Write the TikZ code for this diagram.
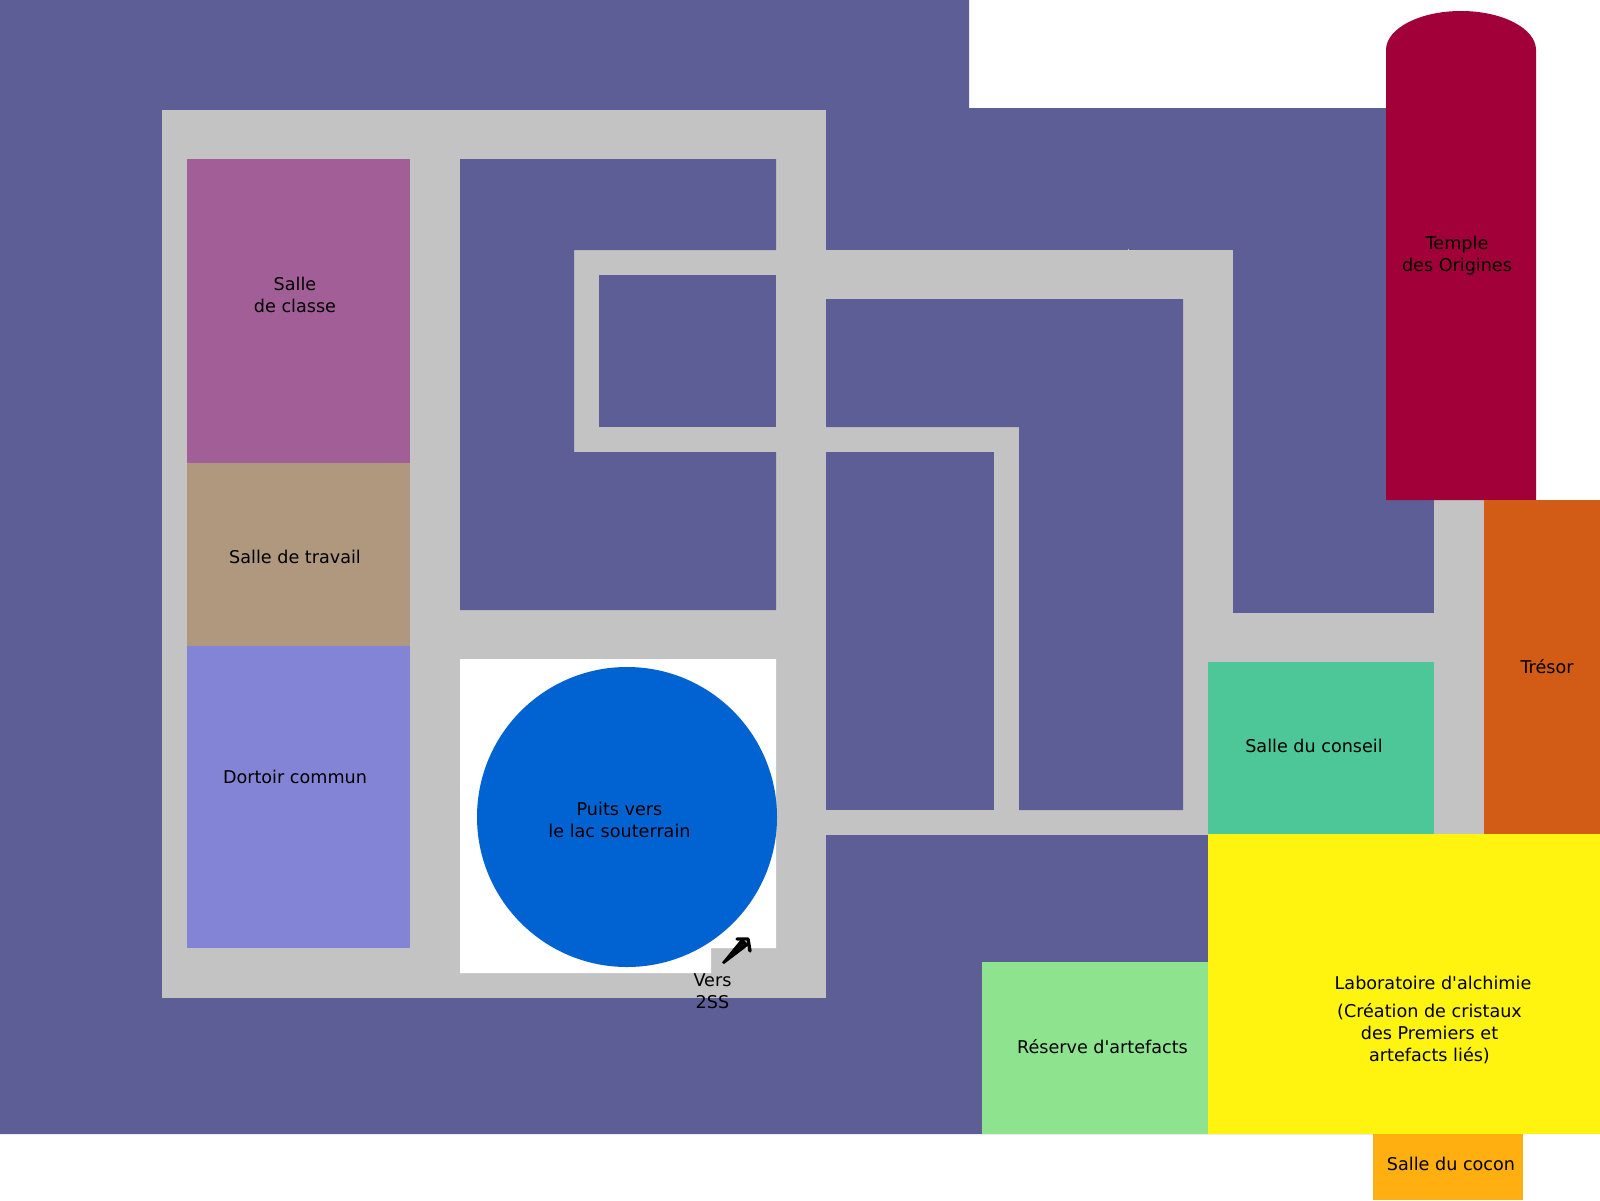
\documentclass[tikz,border=0pt]{standalone}
\usepackage{fontspec}
\setmainfont{DejaVu Sans}
\usetikzlibrary{arrows.meta}
\definecolor{plum}{HTML}{5E5E97}
\definecolor{corr}{HTML}{C3C3C3}
\definecolor{classe}{HTML}{A25F97}
\definecolor{travail}{HTML}{AF987E}
\definecolor{dortoir}{HTML}{8484D6}
\definecolor{puits}{HTML}{0063D1}
\definecolor{temple}{HTML}{A00037}
\definecolor{tresor}{HTML}{D25B15}
\definecolor{conseil}{HTML}{4DC698}
\definecolor{labo}{HTML}{FFF310}
\definecolor{reserve}{HTML}{8EE48E}
\definecolor{cocon}{HTML}{FFB010}
\tikzset{
  label/.style={text=black,font=\fontsize{17.6}{22}\selectfont,align=center,inner sep=0pt},
}
\begin{document}
\begin{tikzpicture}[x=1pt,y=-1pt]
\useasboundingbox (0,0) rectangle (1600,1200);
% background
\fill[white] (0,0) rectangle (1600,1200);
\fill[plum] (0,0) -- (969,0) -- (969,108) -- (1386,108) -- (1386,500) -- (1434,500) -- (1434,1134) -- (0,1134) -- cycle;
% corridors
\fill[corr] (162,110) rectangle (826,998);
\fill[corr] (826,250) rectangle (1233,835);
\fill[corr] (1128,249) rectangle (1129,250);
\fill[corr] (1183,613) rectangle (1484,662);
\fill[corr] (1434,500) rectangle (1484,834);
% plum islands
\fill[plum] (460,159) -- (776,159) -- (776,250) -- (574,250) -- (574,452) -- (776,452) -- (776,610) -- (460,610) -- cycle;
\fill[plum] (599,275) rectangle (776,427);
\fill[plum] (826,299) -- (1183,299) -- (1183,810) -- (1019,810) -- (1019,427) -- (826,427) -- cycle;
\fill[plum] (826,452) rectangle (994,810);
\fill[plum] (1233,250) rectangle (1434,613);
% rooms
\fill[classe] (187,159) rectangle (410,463);
\fill[travail] (187,463) rectangle (410,646);
\fill[dortoir] (187,646) rectangle (410,948);
\fill[white] (460,659) -- (776,659) -- (776,948) -- (711,948) -- (711,973) -- (460,973) -- cycle;
\fill[puits] (627,817) circle[radius=150];
\fill[temple] (1386,500) -- (1386,50) arc[start angle=180,end angle=360,x radius=75,y radius=39] -- (1536,500) -- cycle;
\fill[tresor] (1484,500) rectangle (1600,834);
\fill[conseil] (1208,662) rectangle (1434,834);
\fill[labo] (1208,834) rectangle (1600,1134);
\fill[reserve] (982,962) rectangle (1208,1134);
\fill[cocon] (1373,1134) rectangle (1523,1200);
% labels
\node[label] (tclasse) at (295,295) {Salle\\de classe};
\node[label] (ttravail) at (295,557) {Salle de travail};
\node[label] (tdortoir) at (295,776.5) {Dortoir commun};
\node[label] (tpuits) at (619.5,820) {Puits vers\\le lac souterrain};
\node[label] (ttemple) at (1457,256) {Temple\\des Origines};
\node[label] (ttresor) at (1547,667) {Trésor};
\node[label] (tconseil) at (1314,746) {Salle du conseil};
\node[label] (tvers) at (712.5,991) {Vers\\2SS};
\node[label] (tlabo) at (1433,983) {Laboratoire d\textquotesingle alchimie};
\node[label] (tcrea) at (1429.5,1034) {(Création de cristaux\\des Premiers et\\artefacts liés)};
\node[label] (treserve) at (1102.5,1047) {Réserve d\textquotesingle artefacts};
\node[label] (tcocon) at (1451,1164) {Salle du cocon};
% arrow: tapered shaft and hooked head
\coordinate (afromA) at (722,962.5);
\coordinate (afromB) at (724,964);
\coordinate (atoA) at (742,938);
\coordinate (atoB) at (749,945);
\coordinate (bA) at (737,939);
\coordinate (bT) at (748,939);
\coordinate (bB) at (750,951);
\fill[black] (afromA) -- (atoA) -- (atoB) -- (afromB) -- cycle;
\draw[black,line width=3.4pt,line cap=round,line join=round] (bA) -- (bT) -- (bB);
\end{tikzpicture}
\end{document}
